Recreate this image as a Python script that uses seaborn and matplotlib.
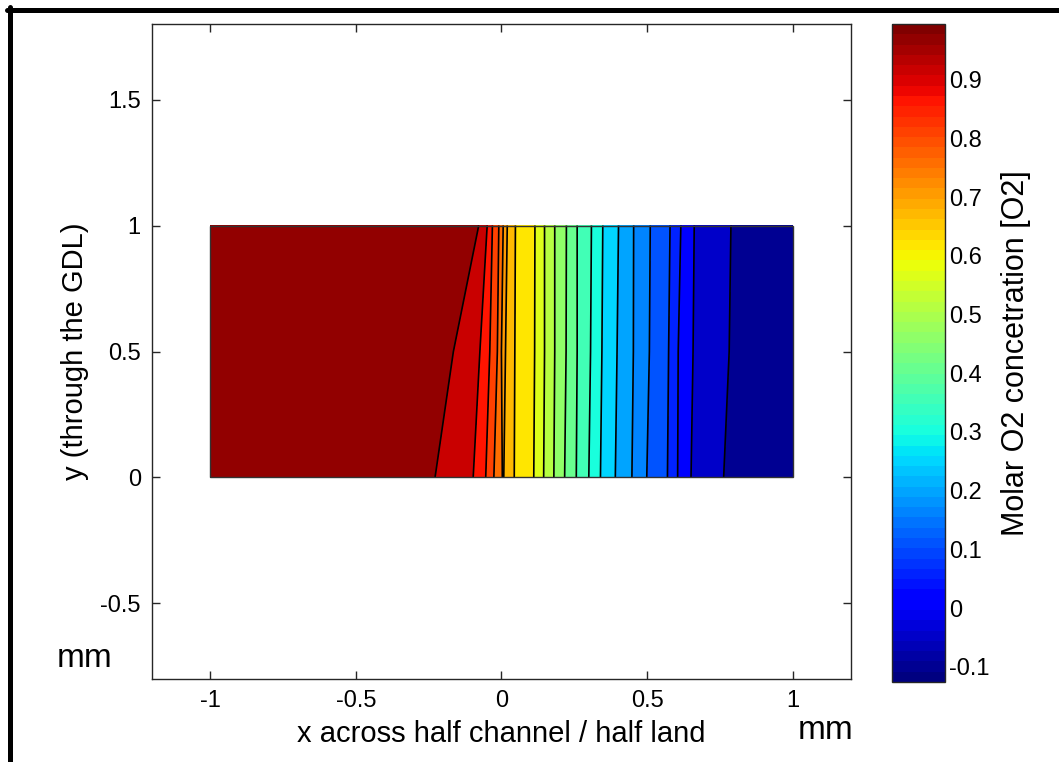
import numpy as np
import matplotlib
matplotlib.use("Agg")
import matplotlib.pyplot as plt
import seaborn as sns
from matplotlib.colors import Normalize
from matplotlib.lines import Line2D
from matplotlib.patches import Rectangle

# y positions (mm, through the GDL) of the rows where the profile was read
y_rows = [0.0, 0.5, 1.0]

# iso-concentration values, from channel side (high) to land side (low)
iso_levels = [0.944, 0.893, 0.842, 0.791, 0.740, 0.689, 0.638, 0.587, 0.536, 0.485,
              0.434, 0.384, 0.333, 0.282, 0.231, 0.180, 0.129, 0.078, 0.027, -0.024, -0.075]

# x position (mm) of every iso-line in each row
x_iso_bottom = [-0.228, -0.097, -0.054, -0.026, 0.003, 0.008, 0.044, 0.111, 0.145, 0.180,
                0.217, 0.257, 0.300, 0.340, 0.391, 0.448, 0.499, 0.570, 0.605, 0.651, 0.763]
x_iso_mid = [-0.165, -0.074, -0.040, -0.014, 0.000, 0.014, 0.046, 0.114, 0.148, 0.183,
             0.222, 0.260, 0.306, 0.345, 0.397, 0.453, 0.508, 0.574, 0.607, 0.658, 0.782]
x_iso_top = [-0.078, -0.049, -0.031, -0.009, 0.006, 0.020, 0.048, 0.115, 0.148, 0.183,
             0.223, 0.260, 0.309, 0.348, 0.402, 0.454, 0.511, 0.579, 0.616, 0.662, 0.788]

# domain edges (mm) and concentration at those edges
x_left, x_right = -1.0, 1.0
c_left, c_right = 0.995, -0.126

xticks = [-1, -0.5, 0, 0.5, 1]
xtick_labels = ["-1", "-0.5", "0", "0.5", "1"]
yticks = [-0.5, 0, 0.5, 1, 1.5]
ytick_labels = ["-0.5", "0", "0.5", "1", "1.5"]
cbar_ticks = [-0.1, 0, 0.1, 0.2, 0.3, 0.4, 0.5, 0.6, 0.7, 0.8, 0.9]
cbar_labels = ["-0.1", "0", "0.1", "0.2", "0.3", "0.4", "0.5", "0.6", "0.7", "0.8", "0.9"]

sns.set_style("ticks")
plt.rcParams['font.family'] = ['Liberation Sans', 'DejaVu Sans']
plt.rcParams['axes.unicode_minus'] = False
plt.rcParams['text.color'] = 'black'
plt.rcParams['axes.labelcolor'] = 'black'
plt.rcParams['xtick.color'] = 'black'
plt.rcParams['ytick.color'] = 'black'

# build the curvilinear grid
X = np.array([[x_left] + row + [x_right] for row in (x_iso_bottom, x_iso_mid, x_iso_top)])
Z = np.array([[c_left] + iso_levels + [c_right] for _ in y_rows])
Y = np.repeat(np.array(y_rows)[:, None], X.shape[1], axis=1)

fill_levels = sorted([c_right] + iso_levels + [c_left])
cmap = matplotlib.colormaps['jet'].resampled(64)  # MATLAB-like 64 step jet
norm = Normalize(vmin=c_right, vmax=c_left)

fig = plt.figure(figsize=(10.59, 7.62), dpi=100)
ax = fig.add_axes([0.1435, 0.1089, 0.660, 0.8596])
cax = fig.add_axes([0.8423, 0.105, 0.050, 0.8635])

ax.contourf(X, Y, Z, levels=fill_levels, cmap=cmap, norm=norm)
ax.contour(X, Y, Z, levels=sorted(iso_levels), colors='k', linewidths=1.2,
           negative_linestyles='solid')
ax.add_patch(Rectangle((x_left, min(y_rows)), x_right - x_left, max(y_rows) - min(y_rows),
                       fill=False, edgecolor='#333333', linewidth=1, zorder=5))

ax.set_xlim(-1.2, 1.2)
ax.set_ylim(-0.8, 1.8)
ax.set_xticks(xticks)
ax.set_xticklabels(xtick_labels)
ax.set_yticks(yticks)
ax.set_yticklabels(ytick_labels)
ax.tick_params(direction='in', top=True, right=True, length=6, width=1,
               color='#262626', labelcolor='black', labelsize=17, pad=8)
for s in ax.spines.values():
    s.set_visible(True)
    s.set_color('#262626')
    s.set_linewidth(1)
ax.set_xlabel('x across half channel / half land', fontsize=21, labelpad=6)
ax.set_ylabel('y (through the GDL)', fontsize=21, labelpad=8)

sm = plt.cm.ScalarMappable(norm=norm, cmap=cmap)
cb = fig.colorbar(sm, cax=cax)
cb.set_ticks(cbar_ticks)
cb.set_ticklabels(cbar_labels)
cax.tick_params(direction='in', left=True, right=True, length=6, width=1,
                color='k', labelcolor='black', labelsize=17, pad=3)
cb.outline.set_edgecolor('#262626')
cb.outline.set_linewidth(1)
cb.set_label('Molar O2 concetration [O2]', fontsize=22, labelpad=8)

fig.text(0.0538, 0.1247, 'mm', fontsize=24, ha='left', va='baseline')
fig.text(0.7535, 0.0302, 'mm', fontsize=24, ha='left', va='baseline')

# black frame of the original screenshot
fig.add_artist(Line2D([7 / 1059, 1.0], [1 - 9.5 / 762, 1 - 9.5 / 762],
                      transform=fig.transFigure, color='k', linewidth=3.6))
fig.add_artist(Line2D([9.5 / 1059, 9.5 / 1059], [1 - 7 / 762, 0.0],
                      transform=fig.transFigure, color='k', linewidth=3.6))

fig.savefig('out.png', dpi=100)
